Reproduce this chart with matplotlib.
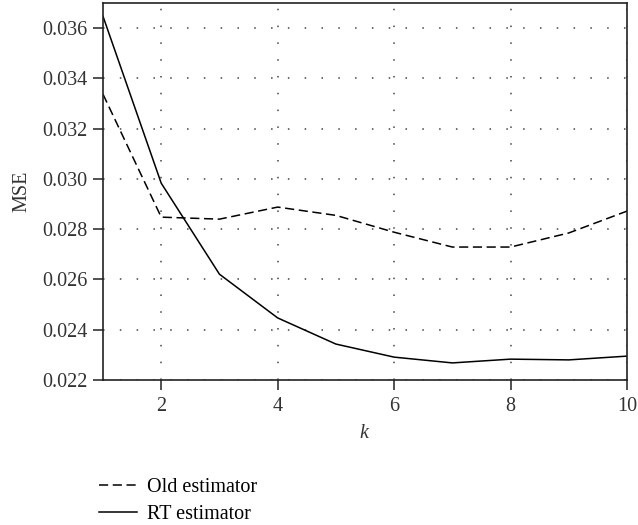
import matplotlib
matplotlib.use("Agg")
import matplotlib.pyplot as plt

k = [1, 2, 3, 4, 5, 6, 7, 8, 9, 10]
old_mse = [0.03337, 0.02848, 0.02840, 0.02888, 0.02855, 0.02788, 0.02729, 0.02729, 0.02785, 0.02872]
rt_mse = [0.03647, 0.02983, 0.02621, 0.02447, 0.02343, 0.02291, 0.02268, 0.02283, 0.02280, 0.02295]
x_ticks = [2, 4, 6, 8, 10]
y_ticks = [0.022, 0.024, 0.026, 0.028, 0.030, 0.032, 0.034, 0.036]

plt.rcParams["font.family"] = ["Liberation Serif", "DejaVu Serif"]
plt.rcParams["font.size"] = 14.5
plt.rcParams["mathtext.fontset"] = "custom"
plt.rcParams["mathtext.it"] = "Liberation Serif:italic"

fig = plt.figure(figsize=(6.38, 5.25), dpi=100)
ax = fig.add_axes([103 / 638, 1 - 380 / 525, 524 / 638, 377 / 525])

ax.plot(k, old_mse, color="black", lw=1.1, ls=(0, (6, 3)), label="Old estimator")
ax.plot(k, rt_mse, color="black", lw=1.1, label="RT estimator")

ax.set_xlim(1, 10)
ax.set_ylim(0.022, 0.037)
ax.set_xticks(x_ticks)
ax.set_yticks(y_ticks)
ax.set_yticklabels([f"{v:.3f}" for v in y_ticks])
ax.tick_params(direction="out", length=7, width=1.2, colors="#333333", labelcolor="#333333")
ax.tick_params(axis="x", pad=5)
ax.tick_params(axis="y", pad=4)
for s in ax.spines.values():
    s.set_linewidth(1.2)
    s.set_color("#222222")
ax.grid(True, ls=(0, (1, 10)), color="#444444", lw=1.1)

ax.set_xlabel("$k$", color="#333333", labelpad=6)
ax.set_ylabel("MSE", color="#333333", labelpad=8)

fig.legend(loc="upper left", bbox_to_anchor=(91 / 638, 1 - 470 / 525), frameon=False,
           handlelength=1.9, handletextpad=0.5, labelspacing=0.4, borderaxespad=0)

fig.savefig("out.png", dpi=100)
